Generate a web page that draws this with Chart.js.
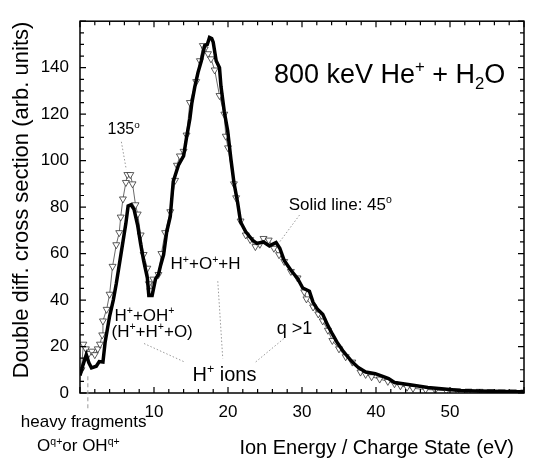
<!DOCTYPE html>
<html>
<head>
<meta charset="utf-8">
<title>800 keV He+ + H2O</title>
<script src="https://cdn.jsdelivr.net/npm/chart.js@4.4.1/dist/chart.umd.min.js"></script>
<style>
  html, body { margin: 0; padding: 0; background: #fff; }
  canvas { display: block; }
</style>
</head>
<body>
<canvas id="chart" width="533" height="459"></canvas>
<script>
// 45 deg spectrum (thick solid line)
const solidE = [0, 0.4, 0.85, 1.2, 1.55, 2.2, 2.6, 3.1, 3.4, 4.0, 4.5, 4.9, 5.5, 6.2, 6.5, 6.9, 7.3, 7.8, 8.2, 8.6,
  9.1, 9.3, 9.75, 10.2, 10.6, 10.9, 11.3, 11.7, 12.2, 12.6, 13.3, 14.0, 14.4, 14.85, 15.1, 15.5, 15.95, 16.4, 16.85, 17.2,
  17.5, 17.8, 18.0, 18.4, 18.85, 19.05, 19.5, 19.95, 20.4, 20.8, 21.3, 21.7, 22.4, 23.3, 23.9, 24.8, 25.6, 26.5, 27.0, 27.6,
  28.5, 29.4, 30.1, 31.0, 31.5, 32.1, 32.8, 33.5, 34.1, 34.8, 35.5, 36.2, 36.8, 37.6, 38.6, 39.9, 41.0, 41.7, 42.5, 44.8,
  47.0, 49.2, 51.4, 53.5, 55.9, 58.6, 60];
const solidY = [7.5, 12, 16.5, 13, 10.8, 11.5, 13.5, 13.3, 22, 33, 40, 47, 59, 73, 80.5, 81, 79, 72, 64, 57,
  49.5, 42, 42, 49, 51, 55, 59.5, 69, 76, 91, 98, 102, 110, 118, 124.5, 131.5, 138, 143, 149.5, 150,
  153, 152.5, 151, 143, 140, 132, 121, 113, 100.5, 90.6, 82, 73.6, 69.4, 65.8, 64.4, 65, 63.3, 64.8, 62.3, 57,
  52.8, 49.3, 45.2, 43.8, 39, 36, 33.9, 29, 25.4, 21.5, 18.3, 15.5, 13.3, 11, 9, 8.3, 7.0, 6.2, 4.5, 3.4,
  2.4, 1.7, 1.1, 0.9, 0.7, 0.5, 0.5];

// 135 deg spectrum (open triangles)
const triE = [0.2, 0.45, 0.8, 1.2, 1.6, 2.0, 2.4, 2.7, 3.0, 3.1, 3.6, 4.0, 4.4, 4.9, 5.3, 5.5, 5.8, 6.2, 6.4, 6.8,
  7.1, 7.5, 7.8, 8.2, 8.6, 9.1, 9.3, 9.5, 9.9, 10.6, 11.0, 11.5, 12.2, 12.85, 13.1, 13.5, 14.0, 14.4, 14.85, 15.7,
  16.2, 16.6, 16.85, 17.3, 17.7, 18.2, 18.85, 19.5, 19.7, 20.0, 20.8, 21.1, 21.7, 22.4, 23.0, 23.7, 24.3, 24.8, 25.5, 26.2,
  26.9, 27.6, 28.5, 29.4, 30.3, 30.6, 31.5, 32.2, 32.8, 33.5, 34.1, 35.0, 35.9, 36.8, 37.9, 38.6, 39.4, 40.5, 41.6, 42.5,
  43.3, 44.2, 45.0, 46.7, 48, 49.5, 51, 52.5, 54, 55.5, 57, 58.5, 60];
const triY = [10, 21, 19, 17, 18, 16.5, 19, 21, 25, 31, 36, 42.5, 54.5, 63.8, 69, 75.7, 83.5, 90.6, 94, 94,
  90, 81, 77, 68, 59.6, 53.7, 47, 44, 49, 51, 60, 69, 78, 91.5, 98, 102, 104, 111, 125, 134,
  143, 149.5, 148, 146, 143.8, 139, 128, 120, 110.5, 105.5, 90, 84, 74, 68, 66, 63, 64, 66.5, 65.8, 62.3,
  59.5, 56.6, 52.3, 49.5, 43.5, 40.5, 37, 34, 31, 27, 22.6, 19, 15.6, 13.3, 9, 8, 7, 6, 5, 4,
  3.1, 2.5, 2, 1.5, 1.3, 1, 0.9, 0.8, 0.7, 0.6, 0.5, 0.5, 0.4];

const xLabels = [10, 20, 30, 40, 50];
const yLabels = [0, 20, 40, 60, 80, 100, 120, 140];

const FONT = '"Liberation Sans", Arial, Helvetica, sans-serif';

// annotation texts, positioned in data units
const notes = [
  { x: 26.2, y: 133.6, size: 27, parts: [['800 keV He'], ['+', 'sup'], [' + H'], ['2', 'sub'], ['O']] },
  { x: 3.72, y: 111.5, size: 16, parts: [['135'], ['o', 'sup']] },
  { x: 28.2, y: 78.7, size: 17, parts: [['Solid line: 45'], ['o', 'sup']] },
  { x: 12.24, y: 53.2, size: 17, parts: [['H'], ['+', 'sup'], ['+O'], ['+', 'sup'], ['+H']] },
  { x: 4.66, y: 31.1, size: 17, parts: [['H'], ['+', 'sup'], ['+OH'], ['+', 'sup']] },
  { x: 4.26, y: 24.3, size: 17, parts: [['(H'], ['+', 'sup'], ['+H'], ['+', 'sup'], ['+O)']] },
  { x: 26.6, y: 25.5, size: 18, parts: [['q >1']] },
  { x: 15.2, y: 5.1, size: 20, parts: [['H'], ['+', 'sup'], [' ions']] },
  { x: -8.0, y: -14.5, size: 17, parts: [['heavy fragments']] },
  { x: -5.8, y: -25.1, size: 17, parts: [['O'], ['q+', 'sup'], ['or OH'], ['q+', 'sup']] }
];

// dotted leader lines [x1, y1, x2, y2]
const leaders = [
  [5.59, 108.1, 6.25, 96.2],
  [29.67, 76.6, 27.0, 65.1],
  [18.62, 48.1, 19.29, 14.9],
  [8.65, 21.3, 14.23, 13.2],
  [27.54, 23.4, 23.68, 13.2]
];
const heavyMark = [1.06, 7.2, 1.06, -7.2];

function richText(ctx, parts, x, y, size) {
  let cx = x;
  parts.forEach(([t, k]) => {
    const s = k ? size * 0.62 : size;
    ctx.font = s + 'px ' + FONT;
    const dy = k === 'sup' ? -size * 0.4 : (k === 'sub' ? size * 0.25 : 0);
    ctx.fillText(t, cx, y + dy);
    cx += ctx.measureText(t).width;
  });
}

const decor = {
  id: 'decor',
  afterDraw(chart) {
    const ctx = chart.ctx;
    const xs = chart.scales.x, ys = chart.scales.y;
    const a = chart.chartArea;
    ctx.save();

    // frame
    ctx.strokeStyle = '#000';
    ctx.lineWidth = 1.5;
    ctx.strokeRect(a.left, a.top, a.right - a.left, a.bottom - a.top);

    // inward ticks on all four sides
    ctx.lineWidth = 1.2;
    ctx.beginPath();
    for (let v = 0; v <= 60; v += 2) {
      const px = xs.getPixelForValue(v);
      const len = v % 10 === 0 ? 6 : 4;
      ctx.moveTo(px, a.bottom); ctx.lineTo(px, a.bottom - len);
      ctx.moveTo(px, a.top); ctx.lineTo(px, a.top + len);
    }
    for (let v = 0; v <= 160; v += 5) {
      const py = ys.getPixelForValue(v);
      const len = v % 20 === 0 ? 6 : 4;
      ctx.moveTo(a.left, py); ctx.lineTo(a.left + len, py);
      ctx.moveTo(a.right, py); ctx.lineTo(a.right - len, py);
    }
    ctx.stroke();

    // leader lines
    ctx.strokeStyle = '#999';
    ctx.lineWidth = 1;
    ctx.setLineDash([1.5, 2]);
    ctx.beginPath();
    leaders.forEach(([x1, y1, x2, y2]) => {
      ctx.moveTo(xs.getPixelForValue(x1), ys.getPixelForValue(y1));
      ctx.lineTo(xs.getPixelForValue(x2), ys.getPixelForValue(y2));
    });
    ctx.stroke();
    ctx.setLineDash([4, 3]);
    ctx.beginPath();
    ctx.moveTo(xs.getPixelForValue(heavyMark[0]), ys.getPixelForValue(heavyMark[1]));
    ctx.lineTo(xs.getPixelForValue(heavyMark[2]), ys.getPixelForValue(heavyMark[3]));
    ctx.stroke();
    ctx.setLineDash([]);

    // annotation texts
    ctx.fillStyle = '#000';
    ctx.textAlign = 'left';
    ctx.textBaseline = 'alphabetic';
    notes.forEach(n => {
      richText(ctx, n.parts, xs.getPixelForValue(n.x), ys.getPixelForValue(n.y), n.size);
    });

    // axis titles
    ctx.font = '20px ' + FONT;
    ctx.textAlign = 'right';
    ctx.fillText('Ion Energy / Charge State (eV)', 514, 454);
    ctx.save();
    ctx.font = '22px ' + FONT;
    ctx.translate(22, 200);
    ctx.rotate(-Math.PI / 2);
    ctx.textAlign = 'center';
    ctx.textBaseline = 'middle';
    ctx.fillText('Double diff. cross section (arb. units)', 0, 0);
    ctx.restore();

    ctx.restore();
  }
};

new Chart(document.getElementById('chart'), {
  type: 'line',
  data: {
    datasets: [
      {
        label: '45°',
        data: solidE.map((e, i) => ({ x: e, y: solidY[i] })),
        borderColor: '#000',
        borderWidth: 3.5,
        pointRadius: 0,
        tension: 0,
        fill: false
      },
      {
        label: '135°',
        data: triE.map((e, i) => ({ x: e, y: triY[i] })),
        borderColor: '#444',
        borderWidth: 0.8,
        pointStyle: 'triangle',
        rotation: 180,
        pointRadius: 4,
        pointBorderWidth: 0.8,
        pointBorderColor: '#333',
        pointBackgroundColor: '#fff',
        tension: 0,
        fill: false
      }
    ]
  },
  options: {
    responsive: false,
    animation: false,
    devicePixelRatio: 1,
    layout: { padding: { top: 17, right: 2, left: 0, bottom: 0 } },
    plugins: { legend: { display: false }, tooltip: { enabled: false } },
    scales: {
      x: {
        type: 'linear',
        min: 0,
        max: 60,
        grid: { display: false, drawTicks: false },
        border: { display: false },
        afterFit: s => { s.height = 66; },
        ticks: {
          stepSize: 10,
          padding: 9,
          color: '#000',
          font: { family: FONT, size: 17 },
          maxRotation: 0,
          callback: v => xLabels.includes(v) ? String(v) : ''
        }
      },
      y: {
        min: 0,
        max: 160,
        grid: { display: false, drawTicks: false },
        border: { display: false },
        afterFit: s => { s.width = 80; },
        ticks: {
          stepSize: 20,
          padding: 11,
          color: '#000',
          font: { family: FONT, size: 17 },
          callback: v => yLabels.includes(v) ? String(v) : ''
        }
      }
    }
  },
  plugins: [decor]
});
</script>
</body>
</html>
